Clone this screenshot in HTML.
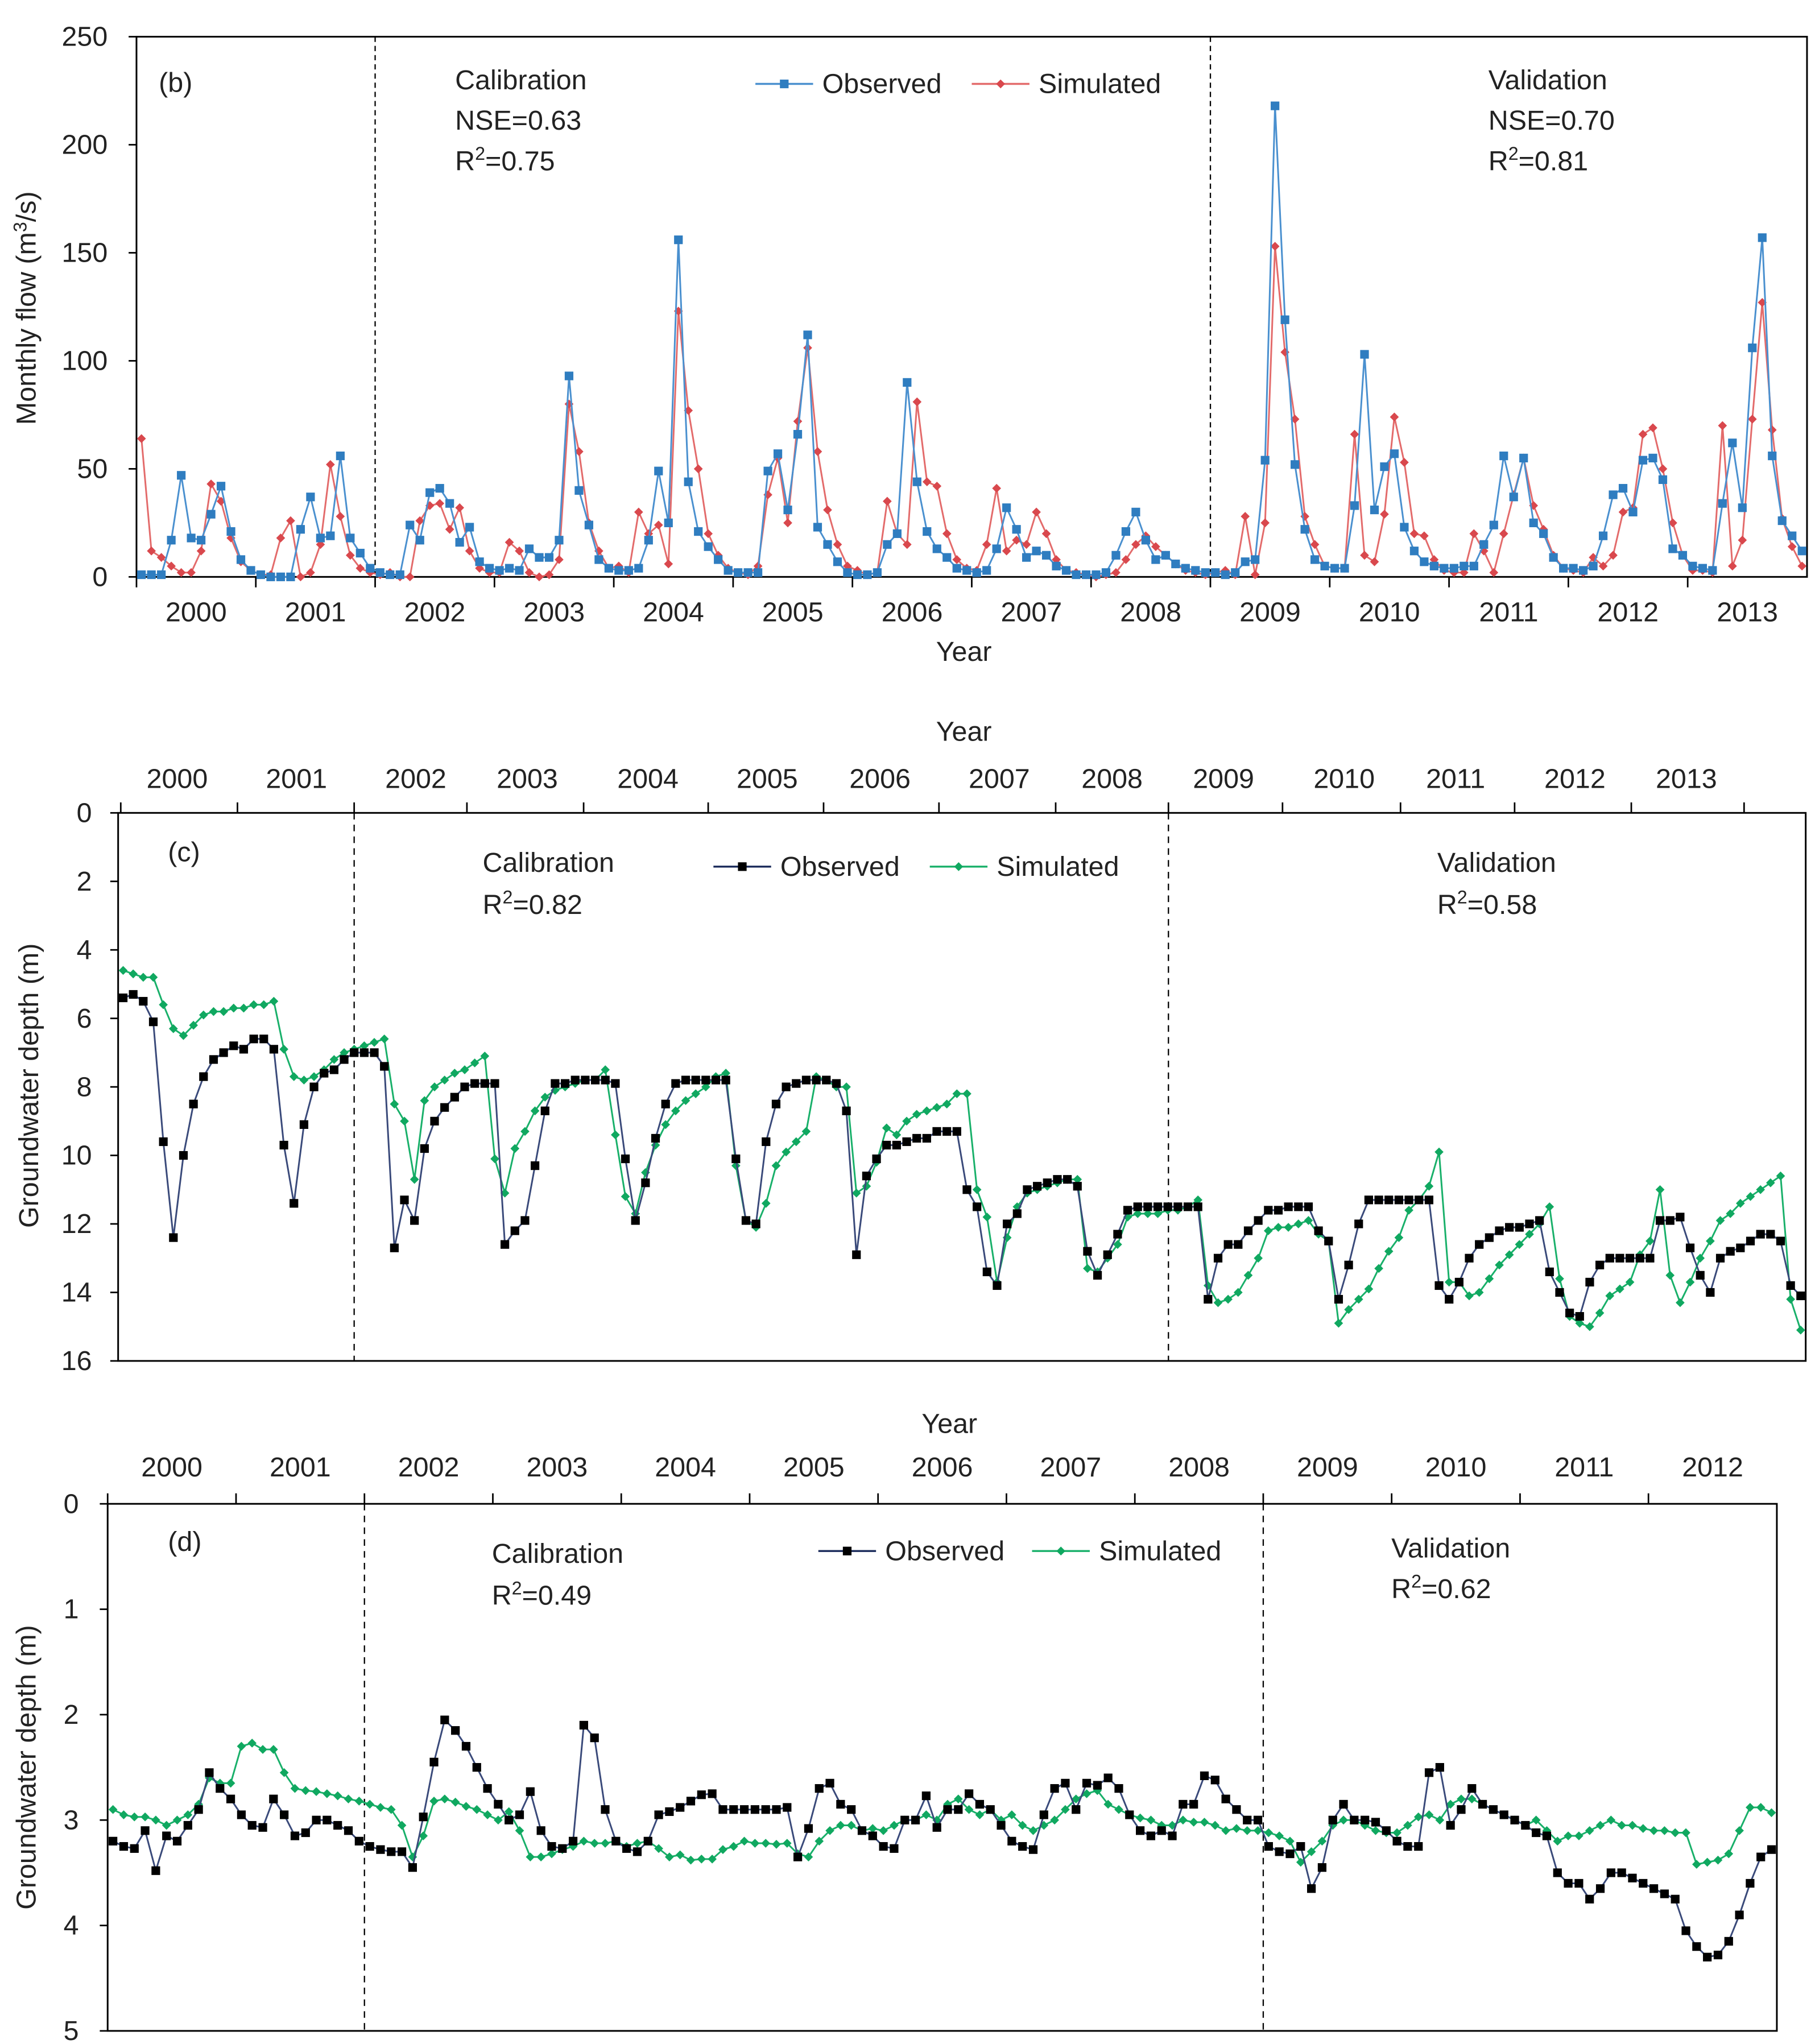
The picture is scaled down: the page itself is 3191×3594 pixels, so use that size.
<!DOCTYPE html>
<html><head><meta charset="utf-8">
<style>
html,body{margin:0;padding:0;background:#fff;}
svg{display:block;font-family:"Liberation Sans",sans-serif;}
text{fill:#222;}
</style></head>
<body>
<svg id="fig" width="3191" height="3594" viewBox="0 0 1384 1559" xmlns="http://www.w3.org/2000/svg">
<rect x="0" y="0" width="1384" height="1559" fill="#fff"/>
</svg>
<script>
// ---------- DATA ----------
const flowYears = ["2000","2001","2002","2003","2004","2005","2006","2007","2008","2009","2010","2011","2012","2013"];
const flowYTicks = [0,50,100,150,200,250];
const flowObserved = [
1,1,1,17,47,18,17,29,42,21,8,3,
1,0,0,0,22,37,18,19,56,18,11,4,
2,1,1,24,17,39,41,34,16,23,7,4,
3,4,3,13,9,9,17,93,40,24,8,4,
3,3,4,17,49,25,156,44,21,14,8,3,
2,2,2,49,57,31,66,112,23,15,7,2,
1,1,2,15,20,90,44,21,13,9,4,3,
2,3,13,32,22,9,12,10,5,3,1,1,
1,2,10,21,30,17,8,10,6,4,3,2,
2,1,2,7,8,54,218,119,52,22,8,5,
4,4,33,103,31,51,57,23,12,7,5,4,
4,5,5,15,24,56,37,55,25,20,9,4,
4,3,5,19,38,41,30,54,55,45,13,10,
5,4,3,34,62,32,106,157,56,26,19,12];
const flowSimulated = [
64,12,9,5,2,2,12,43,35,18,7,3,
1,1,18,26,0,2,15,52,28,10,4,2,
1,2,0,0,26,33,34,22,32,12,4,2,
2,16,12,2,0,1,8,80,58,25,12,4,
5,2,30,20,24,6,123,77,50,20,10,4,
2,1,5,38,55,25,72,106,58,31,15,5,
3,1,2,35,20,15,81,44,42,20,8,4,
3,15,41,12,17,15,30,20,8,3,2,1,
0,1,2,8,15,19,14,10,6,3,2,1,
2,3,1,28,1,25,153,104,73,28,15,5,
4,4,66,10,7,29,74,53,20,19,8,3,
2,2,20,12,2,20,38,55,33,22,10,4,
3,2,9,5,10,30,32,66,69,50,25,10,
3,3,2,70,5,17,73,127,68,27,14,5];

const gwcYears = ["2000","2001","2002","2003","2004","2005","2006","2007","2008","2009","2010","2011","2012","2013"];
const gwcYTicks = [0,2,4,6,8,10,12,14,16];
const gwcObserved = [
5.4,5.3,5.5,6.1,9.6,12.4,10.0,8.5,7.7,7.2,7.0,6.8,
6.9,6.6,6.6,6.9,9.7,11.4,9.1,8.0,7.6,7.5,7.2,7.0,
7.0,7.0,7.4,12.7,11.3,11.9,9.8,9.0,8.6,8.3,8.0,7.9,
7.9,7.9,12.6,12.2,11.9,10.3,8.7,7.9,7.9,7.8,7.8,7.8,
7.8,7.9,10.1,11.9,10.8,9.5,8.5,7.9,7.8,7.8,7.8,7.8,
7.8,10.1,11.9,12.0,9.6,8.5,8.0,7.9,7.8,7.8,7.8,7.9,
8.7,12.9,10.6,10.1,9.7,9.7,9.6,9.5,9.5,9.3,9.3,9.3,
11.0,11.5,13.4,13.8,12.0,11.7,11.0,10.9,10.8,10.7,10.7,10.9,
12.8,13.5,12.9,12.3,11.6,11.5,11.5,11.5,11.5,11.5,11.5,11.5,
14.2,13.0,12.6,12.6,12.2,11.9,11.6,11.6,11.5,11.5,11.5,12.2,
12.5,14.2,13.2,12.0,11.3,11.3,11.3,11.3,11.3,11.3,11.3,13.8,
14.2,13.7,13.0,12.6,12.4,12.2,12.1,12.1,12.0,11.9,13.4,14.0,
14.6,14.7,13.7,13.2,13.0,13.0,13.0,13.0,13.0,11.9,11.9,11.8,
12.7,13.5,14.0,13.0,12.8,12.7,12.5,12.3,12.3,12.5,13.8,14.1];
const gwcSimulated = [
4.6,4.7,4.8,4.8,5.6,6.3,6.5,6.2,5.9,5.8,5.8,5.7,
5.7,5.6,5.6,5.5,6.9,7.7,7.8,7.7,7.5,7.2,7.0,6.9,
6.8,6.7,6.6,8.5,9.0,10.7,8.4,8.0,7.8,7.6,7.5,7.3,
7.1,10.1,11.1,9.8,9.3,8.7,8.3,8.1,8.0,7.9,7.8,7.8,
7.5,9.4,11.2,11.7,10.5,9.7,9.1,8.7,8.4,8.2,8.0,7.7,
7.6,10.3,11.9,12.1,11.4,10.3,9.9,9.6,9.3,7.7,7.8,8.0,
8.0,11.1,10.9,10.2,9.2,9.4,9.0,8.8,8.7,8.6,8.5,8.2,
8.2,11.0,11.8,13.7,12.4,11.5,11.1,11.0,10.9,10.8,10.7,10.7,
13.3,13.4,13.0,12.6,11.8,11.7,11.7,11.7,11.6,11.6,11.5,11.3,
13.8,14.3,14.2,14.0,13.5,13.0,12.2,12.1,12.1,12.0,11.9,12.3,
12.5,14.9,14.5,14.2,13.9,13.3,12.8,12.4,11.6,11.3,10.9,9.9,
13.7,13.7,14.1,14.0,13.6,13.2,12.9,12.6,12.3,12.0,11.5,13.6,
14.7,14.9,15.0,14.6,14.1,13.9,13.7,12.9,12.5,11.0,13.5,14.3,
13.7,13.0,12.5,11.9,11.7,11.4,11.2,11.0,10.8,10.6,14.2,15.1];

const gwdYears = ["2000","2001","2002","2003","2004","2005","2006","2007","2008","2009","2010","2011","2012"];
const gwdYTicks = [0,1,2,3,4,5];
const gwdObserved = [
3.2,3.25,3.27,3.1,3.48,3.15,3.2,3.05,2.9,2.55,2.7,2.8,
2.95,3.05,3.07,2.8,2.95,3.15,3.12,3.0,3.0,3.05,3.1,3.2,
3.25,3.28,3.3,3.3,3.45,2.97,2.45,2.05,2.15,2.3,2.5,2.7,
2.85,3.0,2.95,2.73,3.1,3.25,3.27,3.2,2.1,2.22,2.9,3.2,
3.27,3.3,3.2,2.95,2.92,2.88,2.82,2.76,2.75,2.9,2.9,2.9,
2.9,2.9,2.9,2.88,3.35,3.08,2.7,2.65,2.85,2.9,3.1,3.15,
3.25,3.27,3.0,3.0,2.77,3.07,2.9,2.9,2.75,2.85,2.9,3.05,
3.2,3.25,3.28,2.95,2.7,2.65,2.9,2.65,2.67,2.6,2.7,2.95,
3.1,3.15,3.1,3.15,2.85,2.85,2.58,2.62,2.8,2.9,3.0,3.0,
3.25,3.3,3.32,3.25,3.65,3.45,3.0,2.85,3.0,3.0,3.02,3.1,
3.2,3.25,3.25,2.55,2.5,3.05,2.9,2.7,2.85,2.9,2.95,3.0,
3.05,3.12,3.15,3.5,3.6,3.6,3.75,3.65,3.5,3.5,3.55,3.6,
3.65,3.7,3.75,4.05,4.2,4.3,4.28,4.15,3.9,3.6,3.35,3.28];
const gwdSimulated = [
2.9,2.95,2.97,2.97,3.0,3.05,3.0,2.95,2.85,2.6,2.65,2.65,
2.3,2.27,2.33,2.33,2.55,2.7,2.72,2.73,2.75,2.77,2.8,2.82,
2.85,2.88,2.9,3.05,3.35,3.15,2.82,2.8,2.83,2.87,2.9,2.95,
3.0,2.92,3.1,3.35,3.35,3.32,3.28,3.25,3.2,3.22,3.22,3.2,
3.25,3.22,3.2,3.27,3.35,3.33,3.38,3.37,3.37,3.28,3.25,3.2,
3.22,3.22,3.23,3.22,3.32,3.35,3.2,3.1,3.05,3.05,3.1,3.08,
3.1,3.05,3.0,3.0,2.95,3.0,2.85,2.8,2.9,2.95,2.9,3.0,
2.95,3.05,3.1,3.05,3.0,2.9,2.8,2.75,2.72,2.85,2.9,2.95,
2.98,3.0,3.05,3.05,3.0,3.02,3.02,3.05,3.1,3.08,3.1,3.1,
3.12,3.15,3.2,3.4,3.3,3.2,3.05,3.0,3.0,3.05,3.1,3.12,
3.12,3.05,2.97,2.95,3.0,2.85,2.8,2.8,2.85,2.9,2.95,3.0,
3.05,3.0,3.1,3.2,3.15,3.15,3.1,3.05,3.0,3.05,3.05,3.08,
3.1,3.1,3.12,3.12,3.42,3.4,3.38,3.32,3.1,2.88,2.88,2.93];

// ---------- DRAWING ----------
const NS = "http://www.w3.org/2000/svg";
const svg = document.getElementById('fig');
function mk(tag, attrs, parent){
  const e = document.createElementNS(NS, tag);
  for (const k in attrs) e.setAttribute(k, attrs[k]);
  (parent||svg).appendChild(e);
  return e;
}
function txt(s, x, y, size, anchor, parent){
  const t = mk('text', {x:x, y:y, 'font-size':size, 'text-anchor':anchor||'start'}, parent);
  t.textContent = s;
  return t;
}
function marker(g, kind, x, y, color){
  let m;
  if (kind === 'square') {
    m = mk('rect', {x:x-3.3, y:y-3.3, width:6.6, height:6.6, fill:color}, g);
  } else {
    const r = 3.4;
    m = mk('polygon', {points:`${x},${y-r} ${x+r},${y} ${x},${y+r} ${x-r},${y}`, fill:color}, g);
  }
  
  
}
function series(g, vals, xf, yf, lineColor, mColor, kind, name){
  const sg = mk('g', {}, g);
  
  
  const pts = vals.map((v,i)=> xf(i).toFixed(2)+','+yf(v).toFixed(2)).join(' ');
  mk('polyline', {points:pts, fill:'none', stroke:lineColor, 'stroke-width':1.3}, sg);
  vals.forEach((v,i)=> marker(sg, kind, xf(i), yf(v), mColor));
}
function legendItem(g, x, y, kind, lineColor, mColor, label, name){
  const lg = mk('g', {}, g);
  
  
  mk('line', {x1:x, y1:y, x2:x+44, y2:y, stroke:lineColor, 'stroke-width':1.5}, lg);
  marker(lg, kind, x+22, y, mColor);
  txt(label, x+51, y+7, 21, 'start', lg);
}
function rtext(g, s, x, y, size, supIdx){
  // text with optional superscript R^2 style
  const t = mk('text', {x:x, y:y, 'font-size':size}, g);
  return t;
}
function r2(g, pre, sup, post, x, y){
  const t = mk('text', {x:x, y:y, 'font-size':21}, g);
  const a = document.createElementNS(NS,'tspan'); a.textContent = pre; t.appendChild(a);
  const b = document.createElementNS(NS,'tspan'); b.setAttribute('dy','-8'); b.setAttribute('font-size','14'); b.textContent = sup; t.appendChild(b);
  const c = document.createElementNS(NS,'tspan'); c.setAttribute('dy','8'); c.textContent = post; t.appendChild(c);
  return t;
}

// ===== Panel (b) =====
(function(){
  const g = mk('g', {});  
  const L=104, R=1378, T=28, B=440;
  const n = flowObserved.length;
  const xf = i => L + (i+0.5)*(R-L)/n;
  const yf = v => B - v*(B-T)/250;
  mk('rect', {x:L, y:T, width:R-L, height:B-T, fill:'none', stroke:'#000', 'stroke-width':1.3}, g);
  flowYTicks.forEach(v=>{
    mk('line',{x1:L-6,y1:yf(v),x2:L,y2:yf(v),stroke:'#000','stroke-width':1.2},g);
    const t = txt(String(v), L-22, yf(v)+7, 21, 'end', g);
     
  });
  const yw = (R-L)/flowYears.length;
  flowYears.forEach((y,k)=>{
    mk('line',{x1:L+k*yw,y1:B,x2:L+k*yw,y2:B+8,stroke:'#000','stroke-width':1.2},g);
    const t = txt(y, L+(k+0.5)*yw, B+34, 21, 'middle', g);
     
  });
  const xt = txt('Year', 735, 504, 21, 'middle', g);  
  const yt = mk('text',{x:0,y:0,'font-size':21,'text-anchor':'middle',transform:'translate(27,235) rotate(-90)'},g);
   
  const a1=document.createElementNS(NS,'tspan');a1.textContent='Monthly flow (m';yt.appendChild(a1);
  const a2=document.createElementNS(NS,'tspan');a2.setAttribute('dy','-7');a2.setAttribute('font-size','14');a2.textContent='3';yt.appendChild(a2);
  const a3=document.createElementNS(NS,'tspan');a3.setAttribute('dy','7');a3.textContent='/s)';yt.appendChild(a3);
  [2,9].forEach(k=> mk('line',{x1:L+k*yw,y1:T,x2:L+k*yw,y2:B,stroke:'#000','stroke-width':1,'stroke-dasharray':'4,3'},g));
  series(g, flowSimulated, xf, yf, '#e36b6b', '#d9484d', 'diamond', 'simulated-flow-series');
  series(g, flowObserved, xf, yf, '#4a90cf', '#2f7dc0', 'square', 'observed-flow-series');
  txt('(b)', 121, 70, 21, 'start', g);
  txt('Calibration', 347, 68, 21, 'start', g);
  txt('NSE=0.63', 347, 99, 21, 'start', g);
  r2(g,'R','2','=0.75',347,130);
  txt('Validation', 1135, 68, 21, 'start', g);
  txt('NSE=0.70', 1135, 99, 21, 'start', g);
  r2(g,'R','2','=0.81',1135,130);
  legendItem(g, 576, 64, 'square', '#4a90cf', '#2f7dc0', 'Observed', 'legend-observed');
  legendItem(g, 741, 64, 'diamond', '#e36b6b', '#d9484d', 'Simulated', 'legend-simulated');
})();

// ===== Panel (c) =====
(function(){
  const g = mk('g', {});  
  const L=90, R=1377, T=620, B=1038;
  const n = gwcObserved.length;
  const xf = i => L + (i+0.5)*(R-L)/n;
  const yf = v => T + v*(B-T)/16;
  mk('rect', {x:L, y:T, width:R-L, height:B-T, fill:'none', stroke:'#000', 'stroke-width':1.3}, g);
  gwcYTicks.forEach(v=>{
    mk('line',{x1:L-6,y1:yf(v),x2:L,y2:yf(v),stroke:'#000','stroke-width':1.2},g);
    const t = txt(String(v), L-20, yf(v)+7, 21, 'end', g);
     
  });
  const labX = [135,226,317,402,494,585,671,762,848,933,1025,1110,1201,1286];
  const tickX = [92,181,270,356,445,540,628,716,805,891,978,1068,1155,1244,1330];
  tickX.forEach(x=> mk('line',{x1:x,y1:T-8,x2:x,y2:T,stroke:'#000','stroke-width':1.2},g));
  gwcYears.forEach((y,k)=>{
    const t = txt(y, labX[k], 601, 21, 'middle', g);
     
  });
  const xt = txt('Year', 735, 565, 21, 'middle', g);  
  const yt = mk('text',{x:0,y:0,'font-size':21,'text-anchor':'middle',transform:'translate(29,828) rotate(-90)'},g);
  yt.textContent='Groundwater depth (m)';
   
  [270,891].forEach(x=> mk('line',{x1:x,y1:T,x2:x,y2:B,stroke:'#000','stroke-width':1,'stroke-dasharray':'5,4'},g));
  series(g, gwcSimulated, xf, yf, '#19b06a', '#10a860', 'diamond', 'simulated-depth-series');
  series(g, gwcObserved, xf, yf, '#3a4a7a', '#000', 'square', 'observed-depth-series');
  txt('(c)', 128, 657, 21, 'start', g);
  txt('Calibration', 368, 665, 21, 'start', g);
  r2(g,'R','2','=0.82',368,697);
  txt('Validation', 1096, 665, 21, 'start', g);
  r2(g,'R','2','=0.58',1096,697);
  legendItem(g, 544, 661, 'square', '#1a2a5a', '#000', 'Observed', 'legend-observed');
  legendItem(g, 709, 661, 'diamond', '#19b06a', '#10a860', 'Simulated', 'legend-simulated');
})();

// ===== Panel (d) =====
(function(){
  const g = mk('g', {});  
  const L=82, R=1355, T=1147, B=1549;
  const n = gwdObserved.length;
  const xf = i => L + (i+0.5)*(R-L)/n;
  const yf = v => T + v*(B-T)/5;
  mk('rect', {x:L, y:T, width:R-L, height:B-T, fill:'none', stroke:'#000', 'stroke-width':1.3}, g);
  gwdYTicks.forEach(v=>{
    mk('line',{x1:L-6,y1:yf(v),x2:L,y2:yf(v),stroke:'#000','stroke-width':1.2},g);
    const t = txt(String(v), L-22, yf(v)+7, 21, 'end', g);
     
  });
  const yw = (R-L)/gwdYears.length;
  gwdYears.forEach((y,k)=>{
    mk('line',{x1:L+k*yw,y1:T-8,x2:L+k*yw,y2:T,stroke:'#000','stroke-width':1.2},g);
    const t = txt(y, L+(k+0.5)*yw, 1126, 21, 'middle', g);
     
  });
  const xt = txt('Year', 724, 1093, 21, 'middle', g);  
  const yt = mk('text',{x:0,y:0,'font-size':21,'text-anchor':'middle',transform:'translate(27,1348) rotate(-90)'},g);
  yt.textContent='Groundwater depth (m)';
   
  [2,9].forEach(k=> mk('line',{x1:L+k*yw,y1:T,x2:L+k*yw,y2:B,stroke:'#000','stroke-width':1,'stroke-dasharray':'5,4'},g));
  series(g, gwdSimulated, xf, yf, '#19b06a', '#10a860', 'diamond', 'simulated-depth-series');
  series(g, gwdObserved, xf, yf, '#3a4a7a', '#000', 'square', 'observed-depth-series');
  txt('(d)', 128, 1183, 21, 'start', g);
  txt('Calibration', 375, 1192, 21, 'start', g);
  r2(g,'R','2','=0.49',375,1224);
  txt('Validation', 1061, 1188, 21, 'start', g);
  r2(g,'R','2','=0.62',1061,1219);
  legendItem(g, 624, 1183, 'square', '#1a2a5a', '#000', 'Observed', 'legend-observed');
  legendItem(g, 787, 1183, 'diamond', '#19b06a', '#10a860', 'Simulated', 'legend-simulated');
})();
</script>
</body></html>
